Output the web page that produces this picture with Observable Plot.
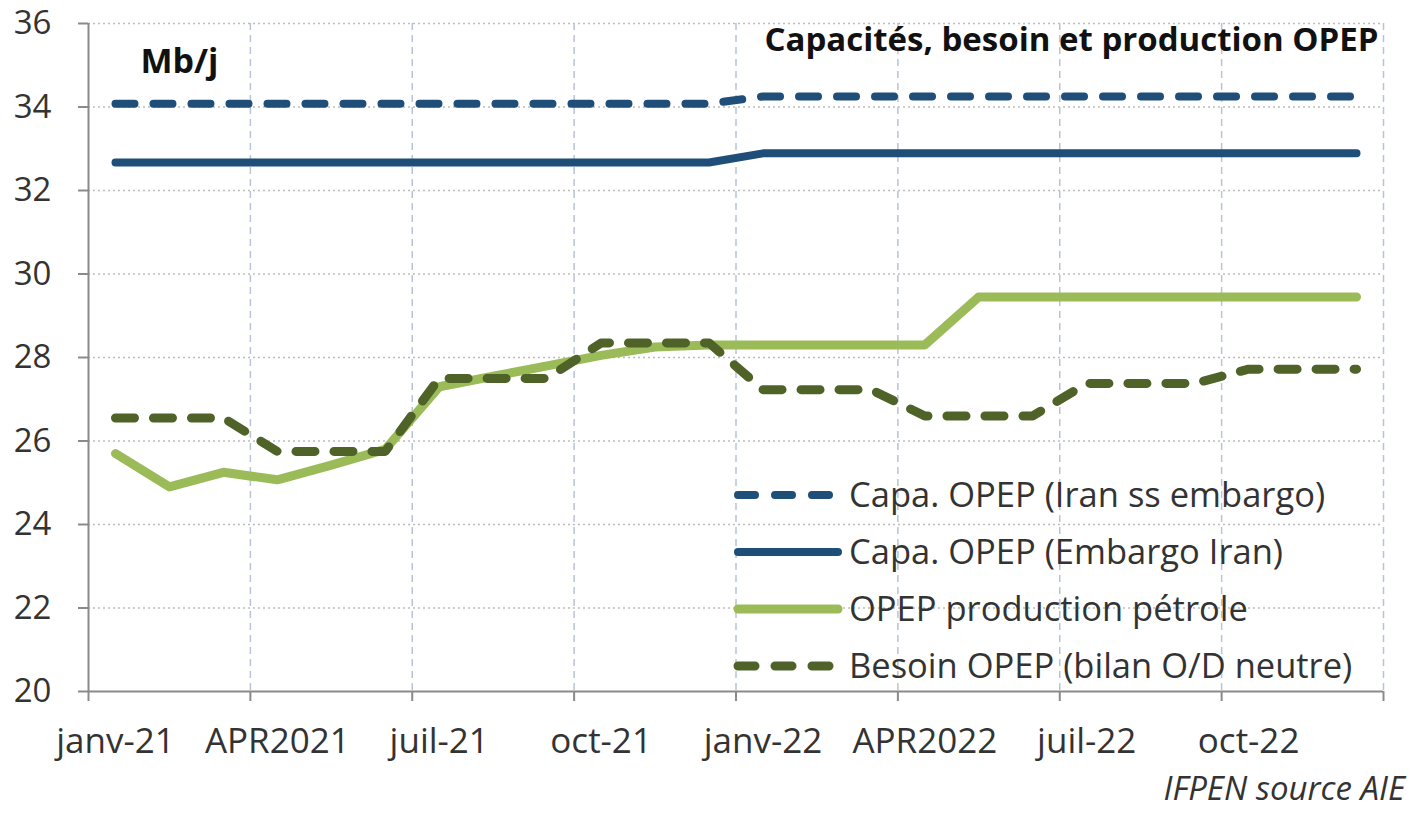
<!DOCTYPE html>
<html>
<head>
<meta charset="utf-8">
<script src="https://cdn.jsdelivr.net/npm/d3@7"></script>
<script src="https://cdn.jsdelivr.net/npm/@observablehq/plot@0.6"></script>
<style>
  html, body { margin: 0; padding: 0; background: #fff; overflow: hidden; }
  #wrap { position: relative; width: 1426px; height: 814px; font-family: "Open Sans", Lato, sans-serif; color: #333; overflow: hidden; }
  #legend { position: absolute; left: 733px; top: 466px; }
  .row { display: flex; align-items: center; height: 57px; }
  .row svg { width: 110px; height: 20px; margin-right: 6px; flex: none; }
  .row span { font-size: 34.5px; line-height: 1; color: #333; white-space: nowrap; }
  #caption { position: absolute; right: 21px; top: 771px; font-size: 33px; line-height: 1; font-style: italic; color: #333; white-space: nowrap; }
</style>
</head>
<body>
<div id="wrap">
  <div id="chart"></div>
  <div id="legend"></div>
  <div id="caption">IFPEN source AIE</div>
</div>
<script>
// Monthly categories (janv-21 .. déc-22)
const months = ["janv-21","févr-21","mars-21","avr-21","mai-21","juin-21","juil-21","août-21","sept-21","oct-21","nov-21","déc-21",
                "janv-22","févr-22","mars-22","avr-22","mai-22","juin-22","juil-22","août-22","sept-22","oct-22","nov-22","déc-22"];
const tickLabels = ["janv-21","APR2021","juil-21","oct-21","janv-22","APR2022","juil-22","oct-22"];
const yTicks = [20,22,24,26,28,30,32,34,36];

// Series (Mb/j)
const capaSansEmbargo = [34.08,34.08,34.08,34.08,34.08,34.08,34.08,34.08,34.08,34.08,34.08,34.08,
                         34.25,34.25,34.25,34.25,34.25,34.25,34.25,34.25,34.25,34.25,34.25,34.25];
const capaEmbargo = [32.67,32.67,32.67,32.67,32.67,32.67,32.67,32.67,32.67,32.67,32.67,32.67,
                     32.89,32.89,32.89,32.89,32.89,32.89,32.89,32.89,32.89,32.89,32.89,32.89];
const production = [25.7,24.9,25.25,25.07,25.42,25.8,27.3,27.55,27.8,28.05,28.25,28.3,
                    28.3,28.3,28.3,28.3,29.45,29.45,29.45,29.45,29.45,29.45,29.45,29.45];
const besoin = [26.55,26.55,26.55,25.75,25.75,25.75,27.5,27.5,27.5,28.35,28.35,28.35,
                27.23,27.23,27.23,26.6,26.6,26.6,27.38,27.38,27.38,27.72,27.72,27.72];

const seriesNames = ["Capa. OPEP (Iran ss embargo)","Capa. OPEP (Embargo Iran)","OPEP production pétrole","Besoin OPEP (bilan O/D neutre)"];
const seriesValues = [capaSansEmbargo, capaEmbargo, production, besoin];
const seriesStyles = [
  {stroke:"#1f4e79", strokeWidth:8, strokeDasharray:"19,19"},
  {stroke:"#1f4e79", strokeWidth:8, strokeDasharray:null},
  {stroke:"#9bbb59", strokeWidth:9, strokeDasharray:null},
  {stroke:"#4f6228", strokeWidth:9, strokeDasharray:"19,19"}
];

const rows = [];
seriesValues.forEach((vals, s) => vals.forEach((v, i) => rows.push({series: seriesNames[s], i, v})));

const boundaries = d3.range(-0.5, months.length, 3);
const labelPos = d3.range(0, months.length, 3);

const lineMarks = seriesNames.map((name, s) =>
  Plot.line(rows.filter(d => d.series === name), {
    x: "i", y: "v",
    stroke: seriesStyles[s].stroke,
    strokeWidth: seriesStyles[s].strokeWidth,
    strokeDasharray: seriesStyles[s].strokeDasharray,
    strokeLinecap: "round", strokeLinejoin: "round"
  })
);

const chart = Plot.plot({
  width: 1426, height: 770,
  marginLeft: 88, marginRight: 43, marginTop: 23, marginBottom: 79,
  style: {fontFamily: "'Open Sans', Lato, sans-serif", fontSize: "33px", color: "#333", background: "transparent", overflow: "visible"},
  x: {type: "linear", domain: [-0.5, months.length - 0.5], axis: null},
  y: {domain: [20, 36], axis: null},
  marks: [
    Plot.gridY(yTicks.slice(1), {stroke: "#bdbdbd", strokeOpacity: 1, strokeWidth: 1.5, strokeDasharray: "2,3"}),
    Plot.gridX(boundaries.slice(1), {stroke: "#b8c3d6", strokeOpacity: 1, strokeWidth: 1.5, strokeDasharray: "7,5"}),
    Plot.axisY(yTicks, {anchor: "left", tickSize: 10, tickPadding: 27, stroke: "#8a8a8a", strokeWidth: 2, fill: "#333", fontSize: 33, label: null}),
    Plot.axisX(boundaries, {anchor: "bottom", tickSize: 10, tickFormat: () => "", stroke: "#8a8a8a", strokeWidth: 2, label: null}),
    Plot.axisX(labelPos, {anchor: "bottom", tickSize: 0, tickPadding: 37, tickFormat: (d, k) => tickLabels[k], fill: "#333", fontSize: 35, label: null}),
    Plot.ruleY([20], {stroke: "#8a8a8a", strokeWidth: 2}),
    Plot.ruleX([-0.5], {stroke: "#8a8a8a", strokeWidth: 2}),
    ...lineMarks,
    Plot.text(["Capacités, besoin et production OPEP"], {frameAnchor: "top-right", dx: -5, dy: 4, fontWeight: "bold", fontSize: 33, fill: "#111", textAnchor: "end"}),
    Plot.text(["Mb/j"], {frameAnchor: "top-left", dx: 52, dy: 25, fontWeight: "bold", fontSize: 34, fill: "#111", textAnchor: "start"})
  ]
});
document.getElementById("chart").appendChild(chart);

// Legend
const legend = d3.select("#legend");
seriesNames.forEach((name, s) => {
  const row = legend.append("div").attr("class", "row");
  const svg = row.append("svg").attr("viewBox", "0 0 110 20");
  svg.append("line").attr("x1", 5).attr("x2", 105).attr("y1", 10).attr("y2", 10)
    .attr("stroke", seriesStyles[s].stroke).attr("stroke-width", seriesStyles[s].strokeWidth)
    .attr("stroke-linecap", "round")
    .attr("stroke-dasharray", seriesStyles[s].strokeDasharray ? "17,20" : null);
  row.append("span").text(name);
});
</script>
</body>
</html>
